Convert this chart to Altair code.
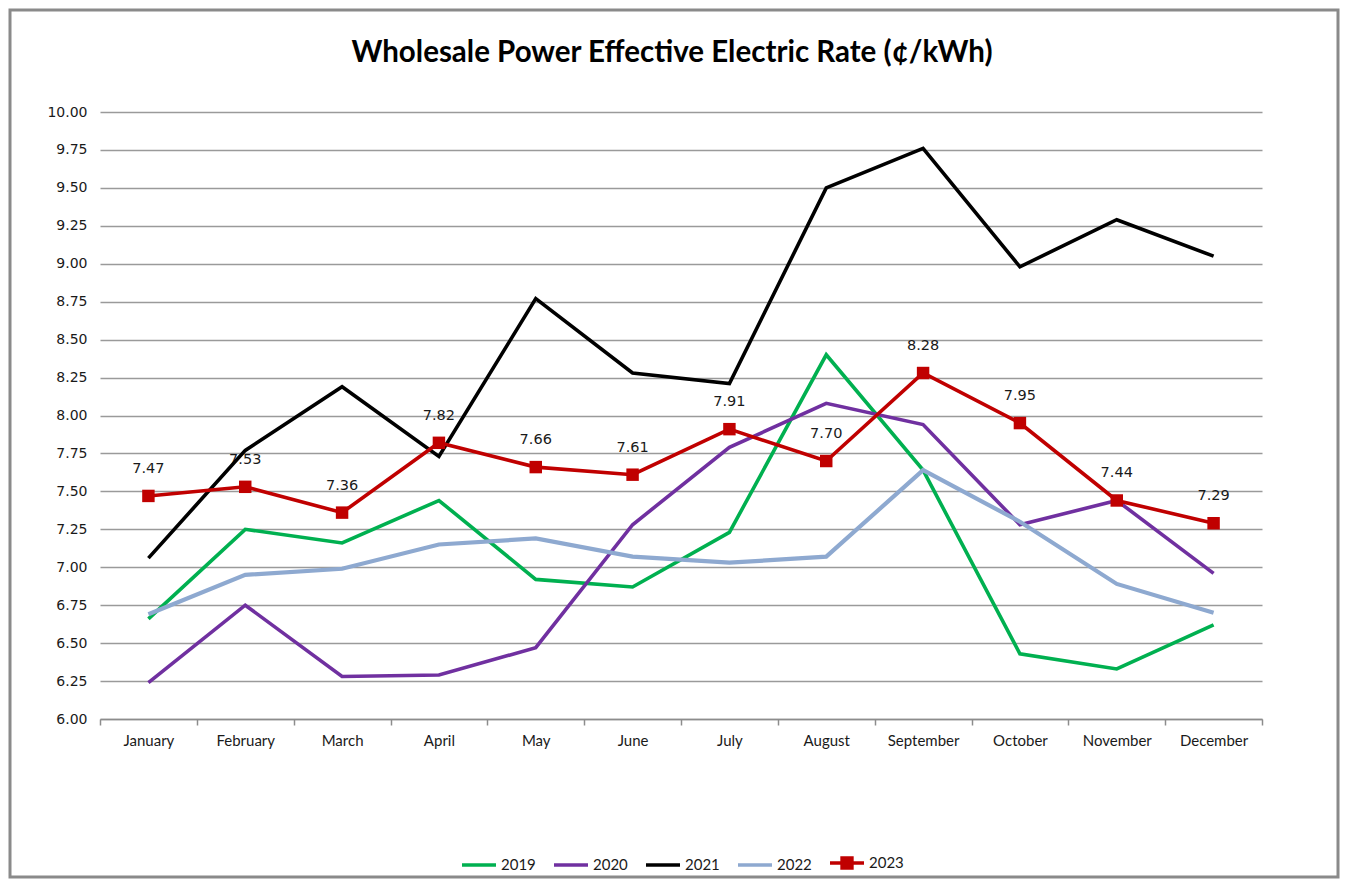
import altair as alt
import pandas as pd

months = ["January", "February", "March", "April", "May", "June", "July",
          "August", "September", "October", "November", "December"]
years = ["2019", "2020", "2021", "2022", "2023"]
v2019 = [6.66, 7.25, 7.16, 7.44, 6.92, 6.87, 7.23, 8.40, 7.64, 6.43, 6.33, 6.62]
v2020 = [6.24, 6.75, 6.28, 6.29, 6.47, 7.28, 7.79, 8.08, 7.94, 7.28, 7.44, 6.96]
v2021 = [7.06, 7.77, 8.19, 7.73, 8.77, 8.28, 8.21, 9.50, 9.76, 8.98, 9.29, 9.05]
v2022 = [6.69, 6.95, 6.99, 7.15, 7.19, 7.07, 7.03, 7.07, 7.64, 7.30, 6.89, 6.70]
v2023 = [7.47, 7.53, 7.36, 7.82, 7.66, 7.61, 7.91, 7.70, 8.28, 7.95, 7.44, 7.29]
colors = ["#00B050", "#7030A0", "#000000", "#8EA9D0", "#C00000"]
widths = [3.6, 3.6, 3.6, 4.2, 3.6]
y_ticks = [6.0, 6.25, 6.5, 6.75, 7.0, 7.25, 7.5, 7.75, 8.0, 8.25, 8.5, 8.75, 9.0, 9.25, 9.5, 9.75, 10.0]

series = [v2019, v2020, v2021, v2022, v2023]
rows = []
for yr, vals in zip(years, series):
    for i, (m, v) in enumerate(zip(months, vals)):
        rows.append({"month": m, "idx": i, "year": yr, "value": v})
df = pd.DataFrame(rows)
df23 = df[df["year"] == "2023"].copy()
df23["label"] = df23["value"].map(lambda v: f"{v:.2f}")

W, H = 1162, 607
PAD = {"left": 92, "top": 104, "right": 78, "bottom": 160}

x_enc = alt.X("month:N", sort=months, scale=alt.Scale(paddingInner=0, paddingOuter=0),
              axis=alt.Axis(title=None, tickBand="extent", ticks=True, tickSize=6,
                            tickColor="#8c8c8c", tickWidth=1.5, domainColor="#8c8c8c",
                            domainWidth=1.5, labelFont="Lato", labelFontSize=15,
                            labelColor="#1a1a1a", labelPadding=8, labelAngle=0, grid=False))
y_enc = alt.Y("value:Q", scale=alt.Scale(domain=[6, 10], nice=False, zero=False),
              axis=alt.Axis(title=None, values=y_ticks, format=".2f", grid=True,
                            gridColor="#9a9a9a", gridWidth=1.5, domain=False, ticks=False,
                            labelFont="DejaVu Sans", labelFontSize=14, labelColor="#1a1a1a",
                            labelPadding=13))

line_path = "M-1,0L1,0"
sq_path = ("M-1,0L1,0M-0.29,-0.29L0.29,-0.29L0.29,0.29L-0.29,0.29Z"
           "M-0.15,-0.15L0.15,-0.15L0.15,0.15L-0.15,0.15Z"
           "M-0.04,-0.04L0.04,-0.04L0.04,0.04L-0.04,0.04Z")

frame = alt.Chart(pd.DataFrame({"k": [0]})).mark_rect(
    fill="white", fillOpacity=0, stroke="#8a8a8a", strokeWidth=3
).encode(x=alt.value(-90), x2=alt.value(W + 76), y=alt.value(-102), y2=alt.value(H + 158))

labels = alt.Chart(df23).mark_text(
    font="DejaVu Sans", fontSize=14.5, color="#1a1a1a", dy=-27, baseline="middle"
).encode(x=x_enc, y=y_enc, text="label:N")

line_layers = []
for yr, col, sw in zip(years, colors, widths):
    line_layers.append(
        alt.Chart(df).transform_filter(f"datum.year == '{yr}'").mark_line(
            strokeWidth=sw, color=col
        ).encode(x=x_enc, y=y_enc, order=alt.Order("idx:Q"))
    )

squares = alt.Chart(df23).mark_square(size=155, color="#C00000", opacity=1).encode(
    x=x_enc, y=y_enc)

leg = dict(title=None, orient="none", direction="horizontal",
           legendX=360, legendY=732, labelFont="Lato",
           labelFontSize=15, labelFontWeight="normal", labelColor="#1a1a1a",
           symbolSize=1156, symbolStrokeWidth=3.5,
           labelOffset=3, columnPadding=11, padding=0)

legend_layer = alt.Chart(df).transform_filter("datum.value > 100").mark_point(
    filled=False, opacity=1, strokeWidth=3.5
).encode(
    x=x_enc, y=y_enc,
    color=alt.Color("year:N", scale=alt.Scale(domain=years, range=colors),
                    legend=alt.Legend(**leg)),
    shape=alt.Shape("year:N", scale=alt.Scale(domain=years,
                                              range=[line_path] * 4 + [sq_path]),
                    legend=alt.Legend(**leg)),
)

chart = alt.layer(frame, labels, *line_layers, squares, legend_layer).properties(
    width=W, height=H,
    padding=PAD,
    autosize=alt.AutoSizeParams(type="none"),
    background="white",
    title=alt.Title("Wholesale Power Effective Electric Rate (¢/kWh)", font="Lato",
                    fontSize=29.5, fontWeight="bold", color="#000000", anchor="middle",
                    offset=-60, dx=-9),
).configure_view(stroke=None)

chart.save("out.html", embed_options={"renderer": "svg", "actions": False})
